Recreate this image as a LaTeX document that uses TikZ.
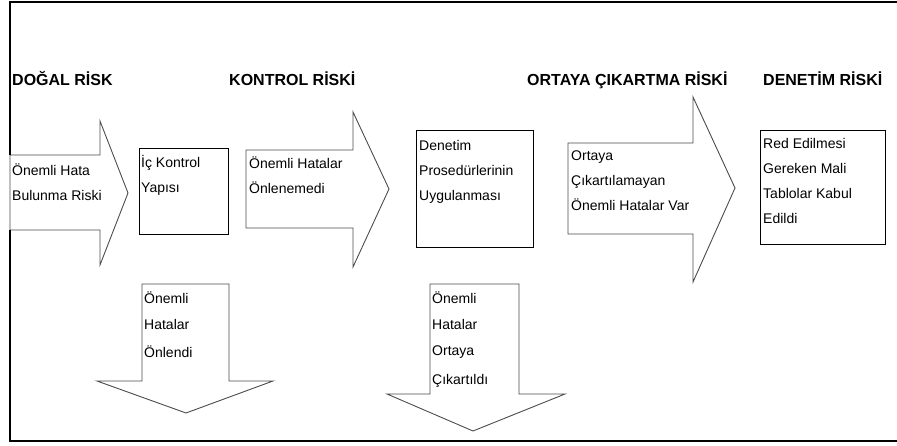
\documentclass[tikz,border=0pt]{standalone}
\usepackage{fontspec}
\usepackage{tikz}
\usetikzlibrary{positioning}

\newfontfamily\arial{Liberation Sans}
\newcommand{\headfont}{\arial\bfseries\fontsize{16}{19}\selectfont}
\newcommand{\txtfont}{\arial\fontsize{14}{25}\selectfont}

\tikzset{
    frame/.style={line width=1.8pt},
    blk/.style={draw,line width=1.3pt,inner sep=0pt,anchor=north west},
    flow/.style={draw=black!70,line width=0.9pt,fill=white,line join=miter},
    head/.style={font=\headfont,inner sep=0pt,anchor=base west},
    txt/.style={font=\txtfont,align=left,inner sep=0pt,anchor=north west},
}

\begin{document}
\begin{tikzpicture}[x=1pt,y=-1pt]
        \useasboundingbox (0,0) rectangle (897,446);
        % right arrows: left / head / tip x, shaft top / bottom, head top / bottom, tip y
        \foreach \xa/\xb/\xc/\ya/\yb/\yc/\yd/\ye in {10/100/128/155/230/121/265/193,246/353/389/150/228/112/267/189,568/693/735/143/234/97/282/188}{
                \draw[flow](\xa,\ya) -- (\xb,\ya) -- (\xb,\yc) -- (\xc,\ye) -- (\xb,\yd) -- (\xb,\yb) -- (\xa,\yb) -- cycle;
        };
        % down arrows: shaft x, head wings x, tip x, shaft top, head y, tip y
        \foreach \xa/\xb/\xl/\xr/\xt/\ya/\yb/\yt in {142/229/97/273/186/284/381/413,430/519/387/565/473/284/394/431}{
                \draw[flow](\xa,\ya) -- (\xb,\ya) -- (\xb,\yb) -- (\xr,\yb) -- (\xt,\yt) -- (\xl,\yb) -- (\xa,\yb) -- cycle;
        };
        \coordinate (tl) at (10,2);
        \coordinate (bl) at (10,441);
        \draw[frame](897,2) -- (tl) -- (10,155);
        \draw[frame](10,230) -- (bl) -- (897,441);

        \node[head] (dogal) at (12,86) {DOĞAL RİSK};
        \node[head] (kontrol) at (229,86) {KONTROL RİSKİ};
        \node[head] (ortaya) at (527,86) {ORTAYA ÇIKARTMA RİSKİ};
        \node[head] (denetim) at (763,86) {DENETİM RİSKİ};

        \node[blk,minimum width=89pt,minimum height=86pt] (ic) at (139,148) {};
        \node[blk,minimum width=117pt,minimum height=117pt] (proc) at (416,130) {};
        \node[blk,minimum width=125pt,minimum height=114pt] (red) at (760,130) {};

        \node[txt] (hatarisk) at (12,157.5) {\strut Önemli Hata\\Bulunma Riski};
        \node[txt] (ictxt) at ([shift={(2,1.5)}]ic.north west) {\strut İç Kontrol\\Yapısı};
        \node[txt] (onlenemedi) at (249,150.5) {\strut Önemli Hatalar\\Önlenemedi};
        \node[txt] (proctxt) at ([shift={(3,2.5)}]proc.north west) {\strut Denetim\\Prosedürlerinin\\Uygulanması};
        \node[txt] (cikmayan) at (571,142.5) {\strut Ortaya\\Çıkartılamayan\\Önemli Hatalar Var};
        \node[txt] (redtxt) at ([shift={(3,0.5)}]red.north west) {\strut Red Edilmesi\\Gereken Mali\\Tablolar Kabul\\Edildi};
        \node[txt] (onlendi) at (144,285.5) {\strut Önemli\\[1pt]Hatalar\\[3pt]Önlendi};
        \node[txt] (cikti) at (432,285.5) {\strut Önemli\\[1pt]Hatalar\\[1pt]Ortaya\\[4pt]Çıkartıldı};
\end{tikzpicture}
\end{document}
